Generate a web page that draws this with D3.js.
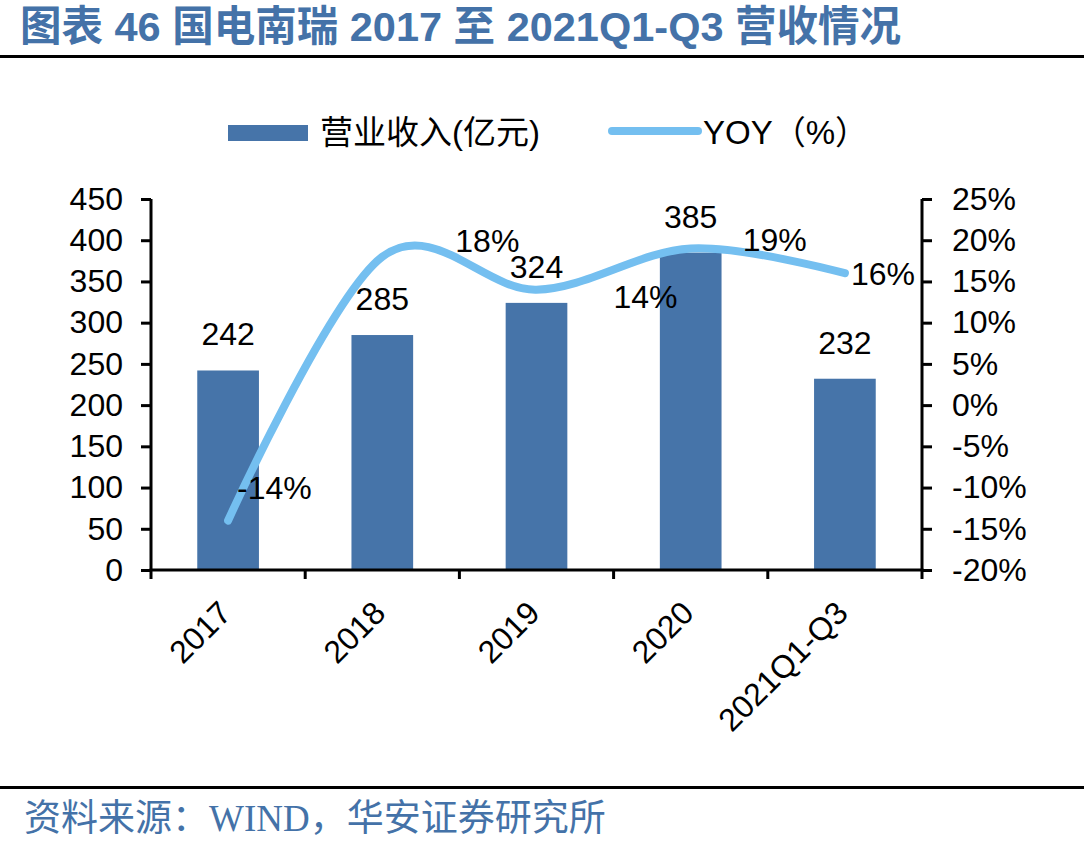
<!DOCTYPE html>
<html>
<head>
<meta charset="utf-8">
<script src="https://cdn.jsdelivr.net/npm/d3@7"></script>
<style>
  body { margin: 0; background: #fff; }
  svg { display: block; }
  text { font-family: "Liberation Sans", Arial, "Noto Sans CJK SC", sans-serif; }
</style>
</head>
<body>
<svg id="chart" width="1084" height="848"></svg>
<script>
// data
var categories = ["2017", "2018", "2019", "2020", "2021Q1-Q3"];
var revenue = [242, 285, 324, 385, 232];
var yoy = [-14, 18, 14, 19, 16];
var leftTicks = [0, 50, 100, 150, 200, 250, 300, 350, 400, 450];
var rightTicks = [-20, -15, -10, -5, 0, 5, 10, 15, 20, 25];

var barColor = "#4674a9";
var lineColor = "#74bff0";

var svg = d3.select("#chart");

var plotLeft = 151, plotRight = 922, plotTop = 199, plotBottom = 570;

var x = d3.scaleBand().domain(categories).range([plotLeft, plotRight]).paddingInner(0.6).paddingOuter(0.3);
var xEdge = d3.scaleLinear().domain([0, categories.length]).range([plotLeft, plotRight]);
var y = d3.scaleLinear().domain([0, 450]).range([plotBottom, plotTop]);
var y2 = d3.scaleLinear().domain([-20, 25]).range([plotBottom, plotTop]);

// title
svg.append("text")
  .attr("x", 20).attr("y", 41)
  .attr("font-size", 41.5).attr("font-weight", "bold")
  .attr("fill", "#4472a8")
  .text("图表 46 国电南瑞 2017 至 2021Q1-Q3 营收情况");
svg.append("line").attr("x1", 0).attr("x2", 1084).attr("y1", 56.5).attr("y2", 56.5)
  .attr("stroke", "#000").attr("stroke-width", 3);

// footer
svg.append("line").attr("x1", 0).attr("x2", 1084).attr("y1", 787.5).attr("y2", 787.5)
  .attr("stroke", "#000").attr("stroke-width", 3);
svg.append("text")
  .attr("x", 24).attr("y", 831)
  .attr("font-size", 37).attr("fill", "#4472a8")
  .style("font-family", "'Liberation Serif', 'Noto Sans CJK SC', serif")
  .text("资料来源：WIND，华安证券研究所");

// legend
svg.append("rect").attr("x", 228).attr("y", 125).attr("width", 80).attr("height", 16).attr("fill", barColor);
svg.append("text").attr("x", 320).attr("y", 144).attr("font-size", 33).text("营业收入(亿元)");
svg.append("line").attr("x1", 612).attr("x2", 698).attr("y1", 131).attr("y2", 131)
  .attr("stroke", lineColor).attr("stroke-width", 8).attr("stroke-linecap", "round");
svg.append("text").attr("x", 703).attr("y", 144).attr("font-size", 33).text("YOY（%）");

// bars
svg.selectAll("rect.bar").data(revenue).enter().append("rect")
  .attr("class", "bar")
  .attr("x", function(d, i) { return x(categories[i]); })
  .attr("y", function(d) { return y(d); })
  .attr("width", x.bandwidth())
  .attr("height", function(d) { return y(0) - y(d); })
  .attr("fill", barColor);

svg.selectAll("text.barlabel").data(revenue).enter().append("text")
  .attr("class", "barlabel")
  .attr("x", function(d, i) { return x(categories[i]) + x.bandwidth() / 2; })
  .attr("y", function(d) { return y(d) - 25; })
  .attr("text-anchor", "middle").attr("font-size", 32)
  .text(function(d) { return d; });

// axes
var axisLeft = svg.append("g").attr("transform", "translate(" + plotLeft + ",0)")
  .call(d3.axisLeft(y).tickValues(leftTicks).tickSize(10).tickPadding(18));
var axisRight = svg.append("g").attr("transform", "translate(" + plotRight + ",0)")
  .call(d3.axisRight(y2).tickValues(rightTicks).tickSize(10).tickPadding(20)
    .tickFormat(function(d) { return d + "%"; }));
[axisLeft, axisRight].forEach(function(g) {
  g.select(".domain").attr("stroke", "#000").attr("stroke-width", 3).attr("d",
    "M0," + plotTop + "V" + plotBottom);
  g.selectAll(".tick line").attr("stroke", "#000").attr("stroke-width", 3);
  g.selectAll(".tick text").attr("font-size", 32).attr("fill", "#000")
    .style("font-family", "'Liberation Sans', Arial, sans-serif");
});

// x axis line and ticks
svg.append("line").attr("x1", plotLeft - 1.5).attr("x2", plotRight + 1.5).attr("y1", plotBottom).attr("y2", plotBottom)
  .attr("stroke", "#000").attr("stroke-width", 3);
svg.selectAll("line.xtick").data(d3.range(categories.length + 1)).enter().append("line")
  .attr("class", "xtick")
  .attr("x1", function(d) { return xEdge(d); }).attr("x2", function(d) { return xEdge(d); })
  .attr("y1", plotBottom).attr("y2", plotBottom + 9)
  .attr("stroke", "#000").attr("stroke-width", 3);

svg.selectAll("text.xlabel").data(categories).enter().append("text")
  .attr("class", "xlabel")
  .attr("transform", function(d) {
    return "translate(" + (x(d) + x.bandwidth() / 2 + 5) + "," + (plotBottom + 45) + ") rotate(-45)";
  })
  .attr("text-anchor", "end").attr("font-size", 32)
  .text(function(d) { return d; });

// yoy line
var pts = yoy.map(function(d, i) { return [x(categories[i]) + x.bandwidth() / 2, y2(d)]; });
svg.append("path")
  .attr("d", d3.line().curve(d3.curveCardinal.tension(0))(pts))
  .attr("fill", "none").attr("stroke", lineColor).attr("stroke-width", 8)
  .attr("stroke-linecap", "round");

var yoyOffsets = [[9, -22], [73, -5], [77, 18], [52, 3], [6, 12]];
svg.selectAll("text.yoylabel").data(yoy).enter().append("text")
  .attr("class", "yoylabel")
  .attr("x", function(d, i) { return pts[i][0] + yoyOffsets[i][0]; })
  .attr("y", function(d, i) { return pts[i][1] + yoyOffsets[i][1]; })
  .attr("font-size", 32)
  .text(function(d) { return d + "%"; });
</script>
</body>
</html>
